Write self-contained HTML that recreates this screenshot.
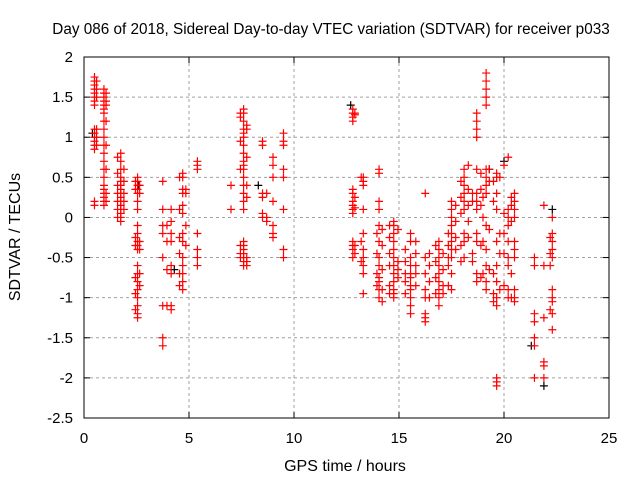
<!DOCTYPE html>
<html><head><meta charset="utf-8"><style>
body{margin:0;background:#fff;}
svg{display:block;font-family:"Liberation Sans",sans-serif;}
</style></head><body>
<svg id="chart" width="640" height="480" viewBox="0 0 640 480">
<text x="331" y="34" font-size="15.3" text-anchor="middle">Day 086 of 2018, Sidereal Day-to-day VTEC variation (SDTVAR) for receiver p033</text>
<text x="345" y="471" font-size="16" text-anchor="middle">GPS time / hours</text>
<text transform="translate(20,237) rotate(-90)" font-size="16" text-anchor="middle">SDTVAR / TECUs</text>
<g id="grid"></g><g id="ticks"></g><g id="marks"></g>
<rect x="84" y="57" width="525" height="361" fill="none" stroke="#000" stroke-width="1"/>
</svg>
<script>
const xTicks=[0,5,10,15,20,25];
const yTicks=[2,1.5,1,0.5,0,-0.5,-1,-1.5,-2,-2.5];
const streakTimes=[0.5,0.5,0.95,1.75,2.55,3.75,4.15,4.7,5.4,7.0,7.6,8.5,9.0,9.5,12.8,13.3,14.05,14.75,15.55,16.25,16.9,17.5,18.1,18.7,19.15,19.65,20.2,20.5,21.45,21.9,22.3];
const streakValues=[
[1.75,1.7,1.65,1.6,1.55,1.5,1.45,1.4],
[1.1,1.05,1.0,0.95,0.9,0.85,0.2,0.15],
[1.6,1.55,1.5,1.45,1.4,1.35,1.3,1.2,1.1,1.0,0.9,0.8,0.7,0.6,0.5,0.4,0.35,0.3,0.25,0.2,0.15],
[0.8,0.7,0.6,0.5,0.45,0.4,0.35,0.3,0.25,0.2,0.15,0.1,0.05,0.0,-0.05],
[0.5,0.45,0.4,0.35,0.3,0.2,0.1,-0.1,-0.2,-0.3,-0.35,-0.4,-0.6,-0.7,-0.8,-0.9,-1.0,-1.1,-1.2,-1.25],
[0.45,0.1,-0.1,-0.2,-0.5,-1.1,-1.5,-1.6],
[0.1,-0.05,-0.2,-0.3,-0.6,-0.7,-1.1,-1.15],
[0.55,0.5,0.35,0.3,0.15,0.05,-0.2,-0.3,-0.5,-0.6,-0.7,-0.8,-0.9],
[0.7,0.65,0.6,-0.2,-0.4,-0.5,-0.6],
[0.4,0.1],
[1.35,1.3,1.2,1.1,1.05,1.0,0.9,0.8,0.7,0.65,0.6,0.5,0.4,0.3,0.2,0.1,-0.3,-0.35,-0.4,-0.45,-0.5,-0.55,-0.6],
[0.95,0.9,0.3,0.25,0.05,0],
[0.75,0.65,0.5,0.2,-0.1,-0.2,-0.25],
[1.05,0.95,0.9,0.6,0.5,0.1,-0.4,-0.5],
[1.35,1.3,1.25,1.2,0.35,0.3,0.2,0.15,0.1,0.05,-0.3,-0.35,-0.4,-0.5],
[0.5,0.45,0.4,0.1,-0.2,-0.4,-0.5,-0.6,-0.7,-0.95],
[0.6,0.55,0.2,0.1,-0.1,-0.3,-0.5,-0.6,-0.75,-0.8,-0.9,-1.0],
[-0.05,-0.1,-0.2,-0.3,-0.4,-0.5,-0.6,-0.7,-0.8,-0.9,-0.95,-1.0],
[-0.2,-0.3,-0.5,-0.6,-0.7,-0.75,-0.85,-0.9,-1.0,-1.1,-1.2],
[0.3,-0.5,-0.7,-0.9,-1.0,-1.2,-1.3,-1.25],
[-0.3,-0.4,-0.5,-0.6,-0.7,-0.8,-0.9,-1.0,-1.1],
[0.2,0.1,0,-0.1,-0.2,-0.3,-0.4,-0.5,-0.7,-0.9],
[0.6,0.5,0.4,0.3,0.2,0.1,-0.2,-0.3,-0.5],
[1.3,1.2,1.1,1.0,0.6,0.3,0.2,0.1,-0.2,-0.3,-0.7,-0.8],
[1.8,1.7,1.6,1.5,1.4,0.6,0.5,0.4,0.3,-0.1,-0.4,-0.6,-0.8,-0.9],
[0.55,0.5,0.3,0.1,-0.3,-0.6,-0.8,-1.0,-1.1,-2.0,-2.05,-2.1],
[0.75,0.1,0,-0.1,-0.3,-0.5,-0.6,-0.9,-1.0],
[0.3,0.2,0.1,0,-0.3,-0.4,-0.5,-0.9,-1.0,-1.05],
[-0.5,-0.6,-1.2,-1.3,-1.5,-1.6,-2.0],
[0.15,-0.6,-1.25,-1.8,-1.85,-2.0],
[0,-0.2,-0.3,-0.4,-0.5,-0.9,-1.0,-1.05,-1.2,-1.4]
];
const extraTimes=[0.6,1.05,1.6,1.9,2.45,2.65,3.95,4.55,4.85,7.45,7.75,8.7,12.9,13.2,13.95,14.2,14.55,14.95,15.3,15.8,16.45,16.75,17.1,17.35,17.7,17.95,18.3,18.5,18.9,19.0,19.3,19.5,19.8,20.0,20.35,22.2];
const extraValues=[
[1.7,1.6,1.5,1.1,1.0,0.9],
[1.55,1.45,1.4,1.2,0.9,0.6,0.3,0.2],
[0.75,0.55,0.4,0.3,0.2,0.1,0.0],
[0.6,0.45,0.3,0.2,0.1],
[0.45,0.35,-0.25,-0.35,-0.75,-0.95,-1.15],
[0.4,0.3,-0.3,-0.4,-0.7,-0.85],
[-0.1,-0.3,-1.1,-0.65],
[0.5,0.1,-0.25,-0.45,-0.7,-0.85],
[0.35,0.3,-0.1,-0.35],
[1.3,1.25,0.95,0.6,-0.35,-0.45,-0.5],
[1.15,1.1,0.75,0.4,0.25,-0.5,-0.55,-0.6],
[0.3,0.0,-0.05],
[1.3,1.28,0.25,0.12,-0.35,-0.45],
[0.5,-0.3,-0.55],
[-0.2,-0.45,-0.7,-0.85],
[-0.15,-0.35,-0.65,-0.9,-1.05],
[-0.1,-0.25,-0.45,-0.6,-0.85,-0.95],
[-0.15,-0.55,-0.65,-0.75],
[-0.4,-0.55,-0.7,-0.8,-0.95],
[-0.3,-0.45,-0.6,-0.7,-0.85],
[-0.45,-0.6,-0.8,-1.0],
[-0.35,-0.55,-0.75,-0.95],
[-0.45,-0.65,-0.85,-0.95],
[-0.2,-0.35,-0.5,-0.6,-0.85],
[0.15,-0.05,-0.25,-0.4],
[0.45,0.25,0.05,-0.35,-0.55],
[0.65,0.35,0.15,-0.05,-0.25],
[0.3,0.2,-0.45,-0.55],
[0.55,0.35,0.15,-0.35,-0.75],
[0.25,0.0,-0.3,-0.7],
[0.6,0.45,-0.15,-0.65],
[0.45,0.2,-0.7,-0.95,-1.05],
[0.5,-0.2,-0.45,-0.9],
[0.65,0.05,-0.2,-0.45,-0.85],
[0.25,0.15,-0.05,-0.7,-1.0],
[-0.25,-0.45,-0.6,-1.15]
];
const blackTimes=[0.4,2.6,4.3,8.3,12.7,19.3,20.0,21.3,21.9,22.3];
const blackValues=[1.05,0.4,-0.65,0.4,1.4,0.6,0.7,-1.6,-2.1,0.1];

const NS='http://www.w3.org/2000/svg';
const X0=84,X1=609,Y0=418,Y1=57;
function sx(t){return X0+(t-0)/(25-0)*(X1-X0);}
function sy(v){return Y0-(v-(-2.5))/(2-(-2.5))*(Y0-Y1);}
function mk(tag,attrs,parent){const e=document.createElementNS(NS,tag);for(const k in attrs)e.setAttribute(k,attrs[k]);parent.appendChild(e);return e;}
const grid=document.getElementById('grid'),ticks=document.getElementById('ticks'),marks=document.getElementById('marks');
xTicks.forEach(t=>{
  const x=sx(t);
  if(t>0&&t<25){const g=mk('line',{x1:x,x2:x,y1:Y1,y2:Y0,stroke:'#a0a0a0','stroke-dasharray':'3,3'},grid);
  
  }
  mk('line',{x1:x,x2:x,y1:Y0,y2:Y0-6,stroke:'#000'},ticks);
  mk('line',{x1:x,x2:x,y1:Y1,y2:Y1+6,stroke:'#000'},ticks);
  const l=mk('text',{x:x,y:443,'font-size':15,'text-anchor':'middle'},ticks);
  l.textContent=t;
  
  
});
yTicks.forEach(v=>{
  const y=sy(v);
  if(v<2&&v>-2.5){const g=mk('line',{x1:X0,x2:X1,y1:y,y2:y,stroke:'#a0a0a0','stroke-dasharray':'3,3'},grid);
  
  }
  mk('line',{x1:X0,x2:X0+6,y1:y,y2:y,stroke:'#000'},ticks);
  mk('line',{x1:X1,x2:X1-6,y1:y,y2:y,stroke:'#000'},ticks);
  const l=mk('text',{x:73,y:y+5,'font-size':15,'text-anchor':'end'},ticks);
  l.textContent=v;
  
  
});
function plus(t,v,col){
  const x=sx(t),y=sy(v);
  return mk('path',{d:`M${x-4} ${y}H${x+4}M${x} ${y-4}V${y+4}`,stroke:col,'stroke-width':1.2,fill:'none'},marks);
}
blackTimes.forEach((t,i)=>{
  const p=plus(t,blackValues[i],'#000');
  
  
});
streakTimes.forEach((t,i)=>{
  streakValues[i].forEach(v=>{
    const p=plus(t,v,'#ff0000');
    
    
  });
});
extraTimes.forEach((t,i)=>{
  extraValues[i].forEach(v=>{
    const p=plus(t,v,'#ff0000');
    
    
  });
});
</script>
</body></html>
